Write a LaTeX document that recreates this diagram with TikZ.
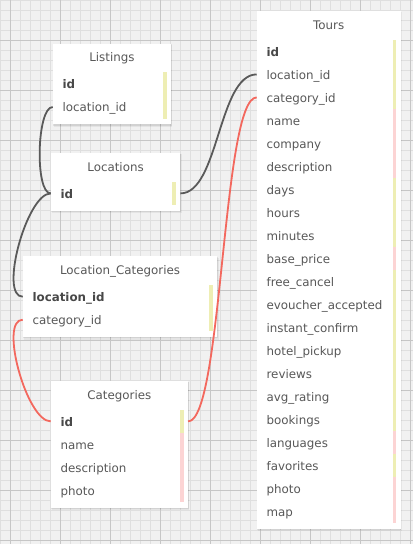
\documentclass[tikz,border=0pt]{standalone}
\usepackage{fontspec}
\setmainfont{DejaVu Sans}
\usetikzlibrary{calc}
\definecolor{gridbg}{RGB}{241,241,241}
\definecolor{gridminor}{RGB}{223,223,223}
\definecolor{gridmajor}{RGB}{198,198,198}
\definecolor{txt}{RGB}{88,88,88}
\definecolor{txtb}{RGB}{72,72,72}
\definecolor{barY}{RGB}{238,238,180}
\definecolor{barP}{RGB}{252,212,212}
\definecolor{linkgray}{RGB}{90,90,90}
\definecolor{linkred}{RGB}{243,104,94}
\tikzset{
  fieldfont/.style={font=\fontsize{11.85}{14}\selectfont, text=txt},
  tablebox/.style={fill=white, draw=none, inner sep=0pt, rectangle},
  titletext/.style={fieldfont, inner sep=0pt},
  rowtext/.style={fieldfont, rectangle, inner xsep=9.7pt, inner ysep=0pt,
    text height=16.2pt, text depth=6.8pt, align=left},
  link/.style={line width=1.8pt},
}
\newcommand\bid[1]{{\color{txtb}\bfseries #1}}
% name, x, y, width, title, rows, nrows
\newcommand\dbtable[7]{%
  \pgfmathsetmacro\tabh{57.7+(#7-1)*23}%
  \pgfmathsetmacro\tabw{#4-19.4}%
  \fill[black, opacity=0.05] (#2+1.5,#3+1.5) rectangle (#2+#4+1.5,#3+\tabh+2.8);
  \fill[black, opacity=0.08] (#2+0.5,#3+0.8) rectangle (#2+#4+0.8,#3+\tabh+1.5);
  \node[tablebox, minimum width=#4pt, minimum height=\tabh pt, anchor=north west] (#1) at (#2,#3) {};
  \node[titletext, anchor=base] (#1-title) at ($(#1.north)+(0,18.5)$) {#5};
  \foreach \t/\c [count=\i] in {#6} {
    \node[rowtext, text width=\tabw pt, anchor=north west] (#1-\i)
      at ($(#1.north west)+(0,{29+(\i-1)*23})$) {\t};
    \fill[\c] ($(#1-\i.north east)+(-8,0)$) rectangle ($(#1-\i.south east)+(-4.3,0)$);
  }
}
\begin{document}
\begin{tikzpicture}[x=1pt,y=-1pt]
\useasboundingbox (0,0) rectangle (413,544);
% background grid
\fill[gridbg] (0,0) rectangle (413,544);
\foreach \gx in {0,10,...,410} \draw[gridminor, line width=1pt] (\gx+0.5,0) -- (\gx+0.5,544);
\foreach \gy in {0,10,...,540} \draw[gridminor, line width=1pt] (0,\gy+0.5) -- (413,\gy+0.5);
\foreach \gx in {10,60,...,410} \draw[gridmajor, line width=1pt] (\gx+0.5,0) -- (\gx+0.5,544);
\foreach \gy in {40,90,...,540} \draw[gridmajor, line width=1pt] (0,\gy+0.5) -- (413,\gy+0.5);

% tables
\dbtable{listings}{52.7}{43.3}{118}{Listings}{\bid{id}/barY, location\_id/barY}{2}
\dbtable{locations}{50.7}{152.7}{129.3}{Locations}{\bid{id}/barY}{1}
\dbtable{loccat}{22.7}{256}{194.3}{Location\_Categories}{\bid{location\_id}/barY, category\_id/barY}{2}
\dbtable{categories}{50.7}{380.7}{137}{Categories}{\bid{id}/barY, name/barP, description/barP, photo/barP}{4}
\dbtable{tours}{256.7}{10.7}{143.6}{Tours}{\bid{id}/barY, location\_id/barY, category\_id/barY,
  name/barP, company/barP, description/barP, days/barY, hours/barY, minutes/barY,
  base\_price/barP, free\_cancel/barY, evoucher\_accepted/barY, instant\_confirm/barY,
  hotel\_pickup/barY, reviews/barY, avg\_rating/barY, bookings/barY, languages/barP,
  favorites/barY, photo/barP, map/barP}{21}

% relations
\draw[link, linkgray] (listings-2.west) .. controls +(-16,0) and +(-16,0) .. (locations-1.west);
\draw[link, linkgray] (locations-1.west) .. controls +(-24,0) and +(-24,0) .. (loccat-1.west);
\draw[link, linkgray] (locations-1.east) .. controls +(38.35,0) and +(-38.35,0) .. (tours-2.west);
\draw[link, linkred] (loccat-2.west) .. controls +(-24,0) and +(-24,0) .. (categories-1.west);
\draw[link, linkred] (categories-1.east) .. controls +(34.5,0) and +(-34.5,0) .. (tours-3.west);
\end{tikzpicture}
\end{document}
